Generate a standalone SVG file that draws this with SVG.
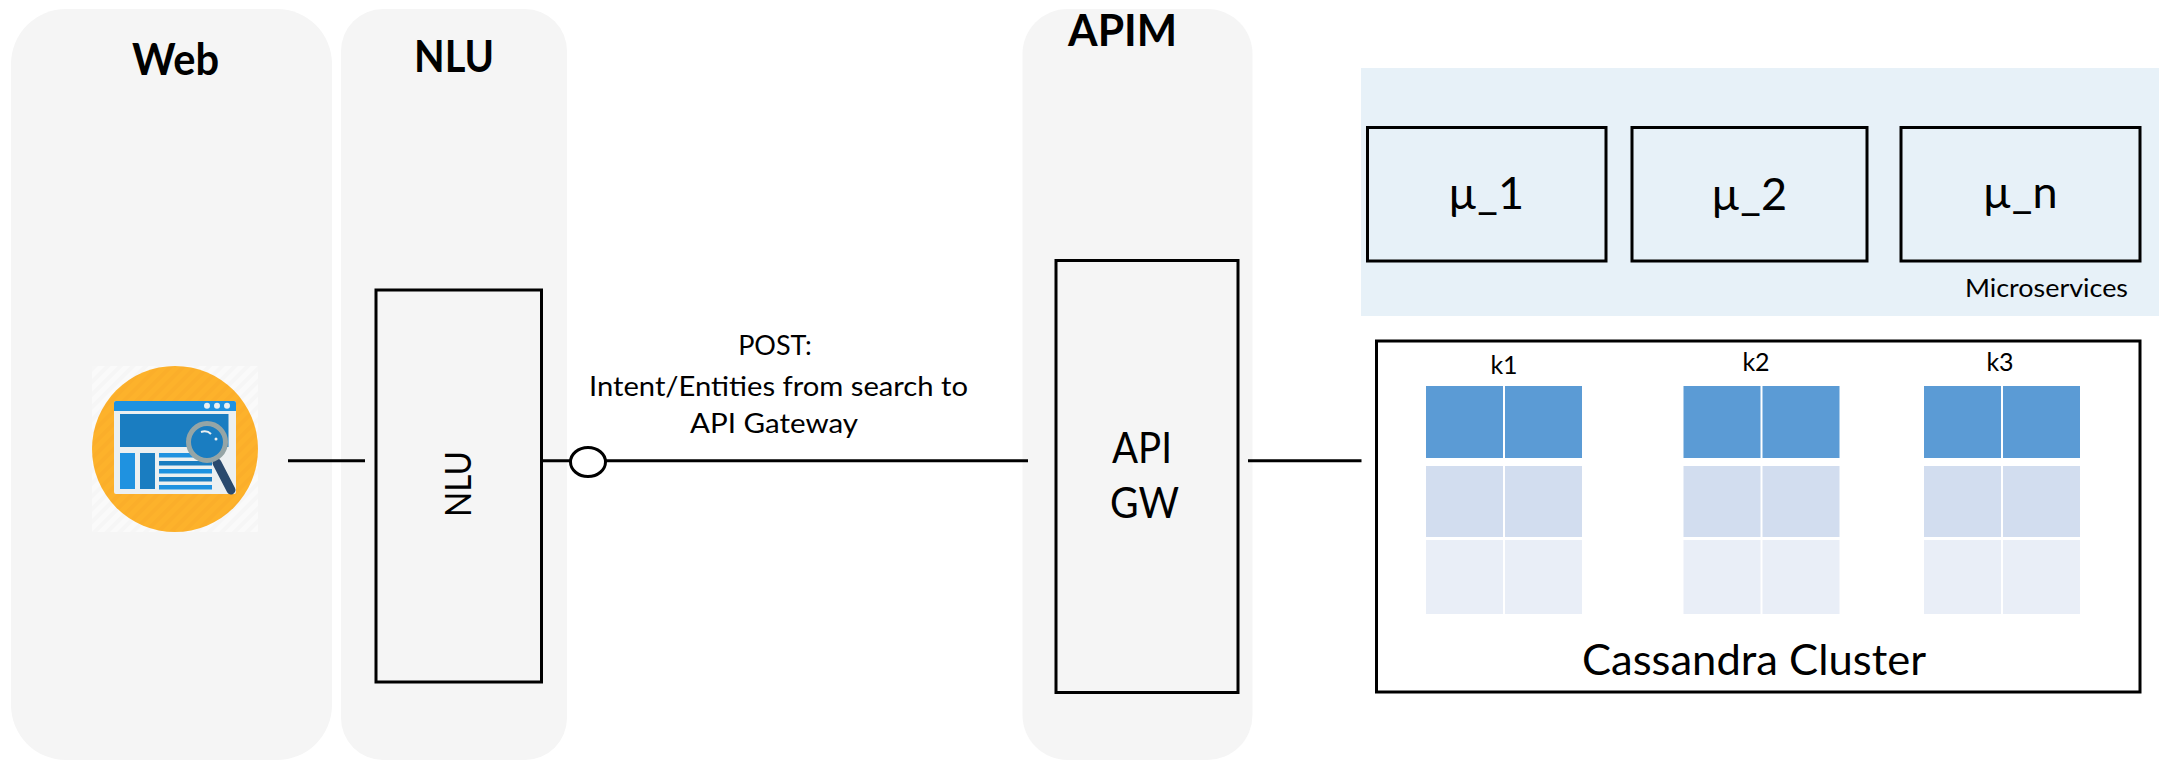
<svg xmlns="http://www.w3.org/2000/svg" width="2164" height="761" viewBox="0 0 2164 761">
<style>
text{font-family:"Lato","Liberation Sans",sans-serif;fill:#000;text-anchor:middle}
.panel{fill:#f5f5f5}
.box{fill:none;stroke:#000;stroke-width:3}
.h{font-weight:700;font-size:43px}
.line{fill:none;stroke:#000;stroke-width:3}
.a{fill:#5b9bd5}.b{fill:#d2ddef}.c{fill:#e9eef7}
.m{font-size:45px}
.k{font-size:25px}
.p{font-size:27px}
</style>
<defs>
<pattern id="s1" width="9" height="9" patternUnits="userSpaceOnUse" patternTransform="rotate(-45)"><rect width="9" height="9" fill="#fafafa"/><rect width="9" height="4" fill="#f6f6f6"/></pattern>
<pattern id="s2" width="9" height="9" patternUnits="userSpaceOnUse" patternTransform="rotate(-45)"><rect width="9" height="9" fill="#fdb22b"/><rect width="9" height="4" fill="#fbae2a"/></pattern>
</defs>
<rect width="2164" height="761" fill="#fff"/>
<g id="web"><rect class="panel" x="11" y="9" width="321" height="751" rx="55" ry="55"/>
<text class="h" x="175.500" y="75" textLength="87" lengthAdjust="spacingAndGlyphs">Web</text>
<g id="web-icon">
<rect x="92" y="366" width="166" height="166" fill="url(#s1)"/>
<circle cx="175" cy="449" r="83" fill="url(#s2)"/>
<rect x="114" y="401" width="122" height="93" rx="2" fill="#ecf0f1"/>
<path d="M114 411v-8a2 2 0 0 1 2-2h118a2 2 0 0 1 2 2v8z" fill="#1f92e0"/>
<circle cx="207" cy="405.800" r="3" fill="#ecf0f1"/><circle cx="217" cy="405.800" r="3" fill="#ecf0f1"/><circle cx="227" cy="405.800" r="3" fill="#ecf0f1"/>
<rect x="120" y="414" width="108.500" height="33" fill="#1a7dc1"/>
<rect x="120" y="453" width="15" height="36" fill="#1f92e0"/>
<rect x="140" y="453" width="15" height="36" fill="#1a7dc1"/>
<g fill="#1f92e0"><rect x="159" y="453" width="53" height="4.500"/><rect x="159" y="461" width="53" height="4.500" fill="#1a7dc1"/><rect x="159" y="469" width="53" height="4.500"/><rect x="159" y="477" width="53" height="4.500" fill="#1a7dc1"/><rect x="159" y="485" width="53" height="4.500"/></g>
<path d="M217 463L231 490" stroke="#2a4a6e" stroke-width="9" stroke-linecap="round" fill="none"/>
<circle cx="207" cy="442" r="18.500" fill="#1a7dc1" stroke="#95a5a6" stroke-width="5"/>
<path d="M201 432q6-2 10 2" stroke="#ecf0f1" stroke-width="2" fill="none"/><circle cx="216" cy="439" r="1.500" fill="#ecf0f1"/>
</g></g>
<g id="nlu-panel"><rect class="panel" x="341" y="9" width="226" height="751" rx="42" ry="42"/>
<text class="h" x="454" y="72" textLength="80" lengthAdjust="spacingAndGlyphs">NLU</text></g>
<g id="apim-panel"><rect class="panel" x="1022.500" y="9" width="230" height="751" rx="45" ry="45"/>
<text class="h" x="1122.500" y="46" textLength="109" lengthAdjust="spacingAndGlyphs">APIM</text></g>
<g id="nlu"><rect class="box" x="376" y="290" width="165.500" height="392"/>
<text x="0" y="0" font-size="37" transform="translate(471 484) rotate(-90)" textLength="66" lengthAdjust="spacingAndGlyphs">NLU</text></g>
<g id="api-gw"><rect class="box" x="1056" y="260.500" width="182" height="432"/>
<text x="1142" y="462.500" font-size="42" textLength="60" lengthAdjust="spacingAndGlyphs">API</text><text x="1144.500" y="518" font-size="42" textLength="69" lengthAdjust="spacingAndGlyphs">GW</text></g>
<g id="microservices"><rect x="1361" y="68" width="798" height="248" fill="#e7f1f8"/>
<text x="2046.500" y="297" font-size="25" textLength="163" lengthAdjust="spacingAndGlyphs">Microservices</text>
<g id="mu-1"><rect class="box" x="1367.500" y="127.500" width="238.500" height="133.500"/><text class="m" x="1486" y="209">µ_1</text></g>
<g id="mu-2"><rect class="box" x="1632" y="127.500" width="235" height="133.500"/><text class="m" x="1749" y="209.500">µ_2</text></g>
<g id="mu-n"><rect class="box" x="1901" y="127.500" width="239" height="133.500"/><text class="m" x="2020" y="208">µ_n</text></g>
</g>
<g id="cassandra"><rect class="box" x="1376.500" y="341" width="763.500" height="351"/>
<text x="1754" y="675" font-size="43" textLength="344" lengthAdjust="spacingAndGlyphs">Cassandra Cluster</text>
<text class="k" x="1504" y="374">k1</text><text class="k" x="1756" y="371">k2</text><text class="k" x="2000" y="371">k3</text>
<g id="k1"><rect class="a" x="1426" y="386" width="77" height="72"/><rect class="a" x="1505" y="386" width="77" height="72"/><rect class="b" x="1426" y="466" width="77" height="71"/><rect class="b" x="1505" y="466" width="77" height="71"/><rect class="c" x="1426" y="540" width="77" height="74"/><rect class="c" x="1505" y="540" width="77" height="74"/></g>
<g id="k2"><rect class="a" x="1683.500" y="386" width="77" height="72"/><rect class="a" x="1762.500" y="386" width="77" height="72"/><rect class="b" x="1683.500" y="466" width="77" height="71"/><rect class="b" x="1762.500" y="466" width="77" height="71"/><rect class="c" x="1683.500" y="540" width="77" height="74"/><rect class="c" x="1762.500" y="540" width="77" height="74"/></g>
<g id="k3"><rect class="a" x="1924" y="386" width="77" height="72"/><rect class="a" x="2003" y="386" width="77" height="72"/><rect class="b" x="1924" y="466" width="77" height="71"/><rect class="b" x="2003" y="466" width="77" height="71"/><rect class="c" x="1924" y="540" width="77" height="74"/><rect class="c" x="2003" y="540" width="77" height="74"/></g>
</g>
<g id="connectors">
<path class="line" d="M288 460.700H365"/>
<path class="line" d="M541 460.700H1028"/>
<ellipse cx="588" cy="462" rx="17.500" ry="14.500" fill="#fff" stroke="#000" stroke-width="3"/>
<path class="line" d="M1248 460.700H1361.500"/>
</g>
<g id="post-label">
<text class="p" x="775" y="355">POST:</text>
<text class="p" x="778.500" y="396" textLength="379" lengthAdjust="spacingAndGlyphs">Intent/Entities from search to</text>
<text class="p" x="774" y="433" textLength="168" lengthAdjust="spacingAndGlyphs">API Gateway</text>
</g>
</svg>
